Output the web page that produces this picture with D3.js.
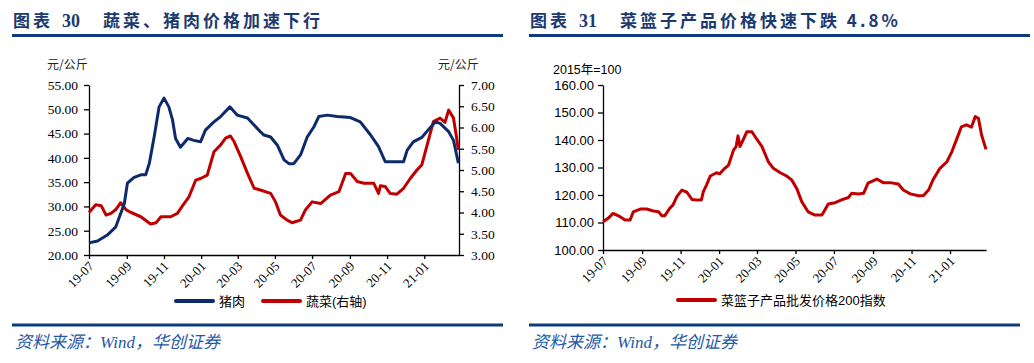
<!DOCTYPE html>
<html>
<head lang="zh">
    <meta charset="UTF-8">
    <title>蔬菜、猪肉价格 / 菜篮子产品价格</title>
    <script src="https://cdnjs.cloudflare.com/ajax/libs/d3/7.8.5/d3.min.js" charset="utf-8"></script>
    <style>
        body { margin: 0; background: white; }
        svg { display: block; }
    </style>
</head>

<body>
<div id="chart"></div>
<script>

// ---- data ----
var tickLabels = ['19-07', '19-09', '19-11', '20-01', '20-03', '20-05', '20-07', '20-09', '20-11', '21-01'];
var dateStart = '2019-07-01', dateEnd = '2021-02-27';

var porkTicks = [20, 25, 30, 35, 40, 45, 50, 55];
var vegTicks = [3, 3.5, 4, 4.5, 5, 5.5, 6, 6.5, 7];
var basketTicks = [100, 110, 120, 130, 140, 150, 160];

var porkDates = ['2019-07-01', '2019-07-15', '2019-07-31', '2019-08-14', '2019-08-28', '2019-09-02', '2019-09-13',
    '2019-09-24', '2019-10-02', '2019-10-08', '2019-10-16', '2019-10-24', '2019-11-01', '2019-11-09', '2019-11-15',
    '2019-11-20', '2019-11-28', '2019-12-10', '2019-12-20', '2019-12-31', '2020-01-08', '2020-01-22', '2020-02-02',
    '2020-02-17', '2020-02-29', '2020-03-17', '2020-04-07', '2020-04-13', '2020-04-24', '2020-05-05', '2020-05-16',
    '2020-05-24', '2020-06-01', '2020-06-12', '2020-06-23', '2020-07-04', '2020-07-12', '2020-07-26', '2020-08-11',
    '2020-09-02', '2020-09-18', '2020-10-05', '2020-10-18', '2020-10-29', '2020-11-06', '2020-11-28', '2020-12-04',
    '2020-12-14', '2020-12-28', '2021-01-05', '2021-01-19', '2021-01-27', '2021-02-10', '2021-02-18', '2021-02-26'];
var porkValues = [22.5, 22.9, 24.1, 25.8, 30.6, 34.8, 36.0,
    36.5, 36.5, 38.9, 44.4, 50.5, 52.3, 50.5, 47.8,
    44.0, 42.2, 44.0, 43.6, 43.3, 45.7, 47.4, 48.5,
    50.5, 48.8, 48.2, 45.4, 44.7, 44.3, 42.6, 39.6,
    38.8, 38.8, 40.6, 44.3, 46.4, 48.5, 48.8, 48.5,
    48.3, 47.4, 44.7, 42.3, 39.2, 39.2, 39.2, 41.6,
    43.3, 44.2, 45.4, 47.4, 47.1, 45.4, 43.6, 38.9];

var vegDates = ['2019-07-01', '2019-07-12', '2019-07-21', '2019-07-29', '2019-08-06', '2019-08-14', '2019-08-22',
    '2019-08-31', '2019-09-08', '2019-09-24', '2019-10-10', '2019-10-19', '2019-10-27', '2019-11-12', '2019-11-23',
    '2019-12-01', '2019-12-12', '2019-12-23', '2019-12-31', '2020-01-11', '2020-01-22', '2020-02-02', '2020-02-10',
    '2020-02-18', '2020-02-24', '2020-03-06', '2020-03-17', '2020-03-28', '2020-04-07', '2020-04-24', '2020-05-02',
    '2020-05-10', '2020-05-21', '2020-05-29', '2020-06-12', '2020-06-20', '2020-07-01', '2020-07-15', '2020-07-31',
    '2020-08-14', '2020-08-25', '2020-09-02', '2020-09-13', '2020-09-24', '2020-10-10', '2020-10-18', '2020-10-21',
    '2020-10-29', '2020-11-06', '2020-11-17', '2020-11-28', '2020-12-09', '2020-12-20', '2020-12-28', '2021-01-05',
    '2021-01-16', '2021-01-27', '2021-02-04', '2021-02-10', '2021-02-18', '2021-02-22', '2021-02-26'];
var vegValues = [4.00, 4.18, 4.16, 3.94, 3.98, 4.07, 4.23,
    4.06, 4.00, 3.90, 3.73, 3.76, 3.90, 3.90, 3.98,
    4.15, 4.37, 4.76, 4.80, 4.88, 5.43, 5.59, 5.75,
    5.80, 5.67, 5.31, 4.92, 4.57, 4.53, 4.45, 4.25,
    3.94, 3.82, 3.76, 3.82, 4.06, 4.25, 4.21, 4.41,
    4.49, 4.92, 4.92, 4.73, 4.69, 4.69, 4.45, 4.63,
    4.61, 4.45, 4.43, 4.57, 4.80, 5.00, 5.12, 5.55,
    6.14, 6.22, 6.12, 6.41, 6.22, 5.86, 5.47];

var basketDates = ['2019-07-01', '2019-07-09', '2019-07-17', '2019-07-28', '2019-08-05', '2019-08-13', '2019-08-18',
    '2019-08-29', '2019-09-08', '2019-09-19', '2019-09-27', '2019-10-02', '2019-10-07', '2019-10-15', '2019-10-20',
    '2019-10-26', '2019-11-03', '2019-11-11', '2019-11-19', '2019-11-26', '2019-12-04', '2019-12-07', '2019-12-12',
    '2019-12-18', '2019-12-28', '2020-01-02', '2020-01-10', '2020-01-16', '2020-01-24', '2020-01-28', '2020-01-31',
    '2020-02-03', '2020-02-08', '2020-02-14', '2020-02-22', '2020-03-01', '2020-03-09', '2020-03-19', '2020-03-27',
    '2020-04-07', '2020-04-17', '2020-04-25', '2020-05-03', '2020-05-11', '2020-05-21', '2020-06-01', '2020-06-12',
    '2020-06-22', '2020-07-03', '2020-07-13', '2020-07-24', '2020-07-29', '2020-08-09', '2020-08-17', '2020-08-24',
    '2020-09-07', '2020-09-17', '2020-09-28', '2020-10-11', '2020-10-19', '2020-10-30', '2020-11-12', '2020-11-20',
    '2020-11-28', '2020-12-05', '2020-12-16', '2020-12-27', '2021-01-04', '2021-01-12', '2021-01-19', '2021-01-27',
    '2021-02-04', '2021-02-10', '2021-02-15', '2021-02-20', '2021-02-27'];
var basketValues = [110.3, 111.5, 113.3, 112.1, 110.9, 110.9, 113.9,
    114.9, 114.9, 114.2, 113.9, 112.5, 112.5, 115.2, 116.4,
    119.4, 121.8, 121.0, 118.4, 118.2, 118.2, 121.2, 123.6,
    126.9, 128.1, 127.7, 129.7, 130.9, 136.4, 137.6, 141.5,
    137.6, 140.0, 143.0, 143.0, 140.2, 137.6, 132.1, 129.7,
    128.1, 126.9, 125.5, 122.4, 117.6, 113.9, 112.7, 112.7,
    116.7, 117.2, 118.2, 119.1, 120.6, 120.4, 120.6, 124.3,
    125.8, 124.5, 124.5, 124.0, 121.8, 120.4, 119.7, 119.8,
    121.8, 125.5, 129.7, 132.1, 135.8, 140.6, 144.8, 145.5,
    144.7, 148.5, 147.9, 141.8, 136.6];

// ---- styles ----
var navy = '#0d2b6b', red = '#c00000', ruleBlue = '#0c3c7e', textBlue = '#2458a6';
var serif = '"Liberation Serif", "Times New Roman", serif';
var sans = '"Liberation Sans", Arial, sans-serif';
var cjk = '"Noto Sans CJK SC", sans-serif';

var parseDate = d3.timeParse('%Y-%m-%d');
var parseTick = d3.timeParse('%y-%m');

var svg = d3.select('#chart').append('svg')
    .attr('width', 1034)
    .attr('height', 363);

function zip(dates, values) {
    return dates.map(function (d, i) { return {date: parseDate(d), value: values[i]}; });
}

// header + footer for each panel
function frame(x0, x1, xr0, xr1, num, title) {
    var t = svg.append('text')
        .attr('y', 27)
        .attr('fill', '#1c3a70')
        .attr('font-weight', 'bold')
        .attr('font-size', 17)
        .attr('font-family', cjk);
    t.append('tspan').attr('x', x0 + 1).attr('letter-spacing', 3).text('图表');
    t.append('tspan').attr('x', x0 + 50).attr('font-family', serif).attr('font-size', 18).text(num);
    t.append('tspan').attr('x', x0 + 91).attr('letter-spacing', 3).text(title);

    svg.append('rect').attr('x', x0).attr('y', 34).attr('width', x1 - x0).attr('height', 3).attr('fill', ruleBlue);
    svg.append('rect').attr('x', xr0).attr('y', 323.5).attr('width', xr1 - xr0).attr('height', 3).attr('fill', ruleBlue);

    svg.append('text')
        .attr('x', xr0 + 3)
        .attr('y', 348)
        .attr('fill', textBlue)
        .attr('font-size', 17)
        .attr('font-style', 'italic')
        .attr('font-family', serif + ', ' + cjk)
        .text('资料来源：Wind，华创证券');
}

function xAxis(g, x, y) {
    var axis = d3.axisBottom(x)
        .tickValues(tickLabels.map(parseTick))
        .tickFormat(d3.timeFormat('%y-%m'))
        .tickSize(4)
        .tickSizeOuter(0);
    g.attr('transform', 'translate(0,' + y + ')').call(axis);
    g.selectAll('.tick text')
        .attr('font-family', serif)
        .attr('font-size', 13)
        .attr('fill', '#000')
        .attr('text-anchor', 'end')
        .attr('x', 0).attr('y', 0).attr('dy', 0)
        .attr('transform', 'translate(5,12) rotate(-45)');
}

function styleAxis(g) {
    g.selectAll('path, line').attr('stroke', '#000').attr('stroke-width', 1.3);
}

function legendItem(x, y, color, label) {
    svg.append('line')
        .attr('x1', x).attr('x2', x + 37)
        .attr('y1', y).attr('y2', y)
        .attr('stroke', color).attr('stroke-width', 4).attr('stroke-linecap', 'round');
    svg.append('text')
        .attr('x', x + 43).attr('y', y + 5)
        .attr('font-size', 13)
        .attr('font-family', sans + ', ' + cjk)
        .attr('fill', '#000')
        .text(label);
}

// ================= left panel =================
frame(12, 503, 12, 503, '30', '蔬菜、猪肉价格加速下行');

var L = {left: 89, right: 459, top: 85, bottom: 255};
var xL = d3.scaleTime().domain([parseDate(dateStart), parseDate(dateEnd)]).range([L.left, L.right]);
var yPork = d3.scaleLinear().domain([20, 55]).range([L.bottom, L.top]);
var yVeg = d3.scaleLinear().domain([3, 7]).range([L.bottom, L.top]);

var gyL = svg.append('g').attr('transform', 'translate(' + L.left + ',0)')
    .call(d3.axisLeft(yPork).tickValues(porkTicks).tickFormat(d3.format('.2f')).tickSize(5).tickSizeOuter(0).tickPadding(6));
var gyR = svg.append('g').attr('transform', 'translate(' + L.right + ',0)')
    .call(d3.axisRight(yVeg).tickValues(vegTicks).tickFormat(d3.format('.2f')).tickSize(5).tickSizeOuter(0).tickPadding(7));
[gyL, gyR].forEach(function (g) {
    g.selectAll('.tick text').attr('font-family', serif).attr('font-size', 13.5).attr('fill', '#000');
    styleAxis(g);
});
var gxL = svg.append('g');
xAxis(gxL, xL, L.bottom);
styleAxis(gxL);

svg.append('text').attr('x', 47).attr('y', 69).attr('font-size', 12).attr('font-family', cjk).attr('fill', '#222').text('元/公斤');
svg.append('text').attr('x', 438).attr('y', 69).attr('font-size', 12).attr('font-family', cjk).attr('fill', '#222').text('元/公斤');

var porkLine = d3.line().x(function (d) { return xL(d.date); }).y(function (d) { return yPork(d.value); });
var vegLine = d3.line().x(function (d) { return xL(d.date); }).y(function (d) { return yVeg(d.value); });

svg.append('path').datum(zip(vegDates, vegValues))
    .attr('d', vegLine).attr('fill', 'none').attr('stroke', red).attr('stroke-width', 3).attr('stroke-linejoin', 'round');
svg.append('path').datum(zip(porkDates, porkValues))
    .attr('d', porkLine).attr('fill', 'none').attr('stroke', navy).attr('stroke-width', 3).attr('stroke-linejoin', 'round');

legendItem(176, 301, navy, '猪肉');
legendItem(263, 301, red, '蔬菜(右轴)');

// ================= right panel =================
frame(529, 1030, 529, 1020, '31', '菜篮子产品价格快速下跌 4.8%');

var R = {left: 603, right: 986, top: 85, bottom: 250};
var xR = d3.scaleTime().domain([parseDate(dateStart), parseDate(dateEnd)]).range([R.left, R.right]);
var yB = d3.scaleLinear().domain([100, 160]).range([R.bottom, R.top]);

var gyB = svg.append('g').attr('transform', 'translate(' + R.left + ',0)')
    .call(d3.axisLeft(yB).tickValues(basketTicks).tickFormat(d3.format('.2f')).tickSize(5).tickSizeOuter(0).tickPadding(4));
gyB.selectAll('.tick text').attr('font-family', sans).attr('font-size', 13).attr('fill', '#000');
styleAxis(gyB);
var gxR = svg.append('g');
xAxis(gxR, xR, R.bottom);
styleAxis(gxR);

svg.append('text').attr('x', 553).attr('y', 74).attr('font-size', 12.5).attr('font-family', sans + ', ' + cjk).attr('fill', '#000').text('2015年=100');

var basketLine = d3.line().x(function (d) { return xR(d.date); }).y(function (d) { return yB(d.value); });
svg.append('path').datum(zip(basketDates, basketValues))
    .attr('d', basketLine).attr('fill', 'none').attr('stroke', red).attr('stroke-width', 3).attr('stroke-linejoin', 'round');

legendItem(678, 300, red, '菜篮子产品批发价格200指数');

</script>
</body>
</html>
